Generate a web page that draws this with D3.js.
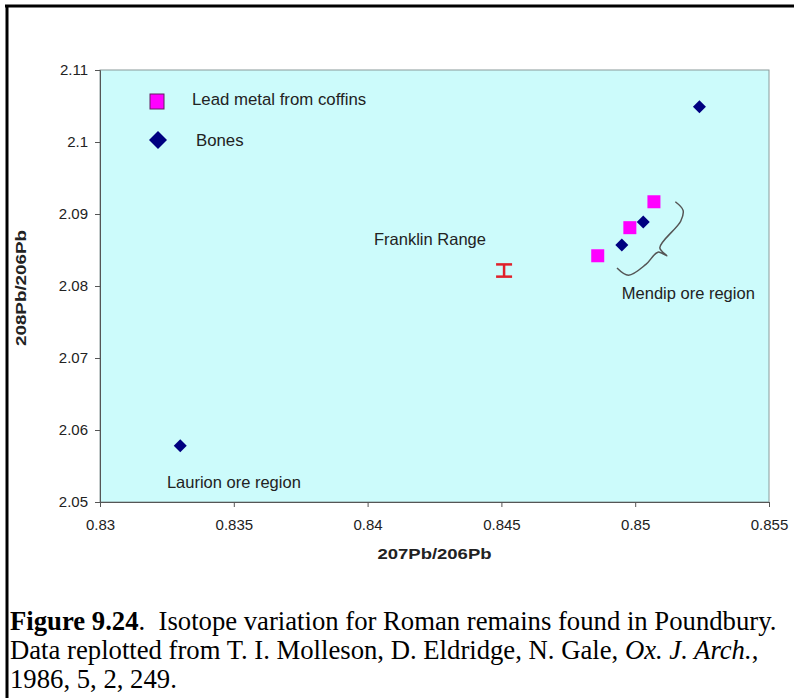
<!DOCTYPE html>
<html>
<head>
<meta charset="utf-8">
<script src="https://cdn.jsdelivr.net/npm/d3@7"></script>
<style>
  body { margin: 0; background: #fff; }
  svg { display: block; }
</style>
</head>
<body>
<div id="chart"></div>
<script>
// Data
const coffinX = [0.8486, 0.8498, 0.8507];
const coffinY = [2.0842, 2.0881, 2.0917];
const boneX = [0.8524, 0.8495, 0.8503, 0.8330];
const boneY = [2.1049, 2.0857, 2.0889, 2.0578];
const franklinX = [0.8451];
const franklinLow = [2.0813];
const franklinHigh = [2.0830];
const xTicks = [0.83, 0.835, 0.84, 0.845, 0.85, 0.855];
const yTicks = [2.05, 2.06, 2.07, 2.08, 2.09, 2.1, 2.11];
const legendLabels = ["Lead metal from coffins", "Bones"];

const W = 794, H = 698;
const margin = { top: 70, right: 25, bottom: 196, left: 100 };
const width = W - margin.left - margin.right;
const height = H - margin.top - margin.bottom;
const font = "Arial, 'Liberation Sans', sans-serif";

const svg = d3.select("#chart").append("svg")
    .attr("width", W)
    .attr("height", H);

// outer frame (left and top edges)
svg.append("line").attr("x1", 7).attr("x2", 7).attr("y1", 5).attr("y2", H)
    .attr("stroke", "#000").attr("stroke-width", 3);
svg.append("line").attr("x1", 5).attr("x2", W).attr("y1", 6).attr("y2", 6)
    .attr("stroke", "#000").attr("stroke-width", 3);

const g = svg.append("g")
    .attr("transform", "translate(" + margin.left + "," + margin.top + ")");

const x = d3.scaleLinear().domain([0.83, 0.855]).range([0, width]);
const y = d3.scaleLinear().domain([2.05, 2.11]).range([height, 0]);

// plot area
g.append("rect")
    .attr("width", width)
    .attr("height", height)
    .attr("fill", "#ccfbfb")
    .attr("stroke", "#8a9a9a")
    .attr("stroke-width", 1);

// axes
const xAxis = g.append("g")
    .attr("transform", "translate(0," + height + ")")
    .call(d3.axisBottom(x).tickValues(xTicks).tickFormat(d => +d.toFixed(3)).tickSizeOuter(0).tickSize(5).tickPadding(12));
const yAxis = g.append("g")
    .call(d3.axisLeft(y).tickValues(yTicks).tickFormat(d => +d.toFixed(2)).tickSizeOuter(0).tickSize(5).tickPadding(7));

[xAxis, yAxis].forEach(a => {
    a.select(".domain").attr("stroke", "#555");
    a.selectAll(".tick line").attr("stroke", "#555");
    a.selectAll("text")
        .attr("fill", "#222")
        .style("font-family", font)
        .style("font-size", "15px");
});

// axis titles
g.append("text")
    .attr("x", width / 2)
    .attr("y", height + 57)
    .attr("text-anchor", "middle")
    .attr("textLength", 114)
    .attr("lengthAdjust", "spacingAndGlyphs")
    .style("font-family", font)
    .style("font-size", "15px")
    .style("font-weight", "bold")
    .attr("fill", "#222")
    .text("207Pb/206Pb");

g.append("text")
    .attr("transform", "translate(" + (-74) + "," + (height / 2 + 2) + ") rotate(-90)")
    .attr("text-anchor", "middle")
    .attr("textLength", 116)
    .attr("lengthAdjust", "spacingAndGlyphs")
    .style("font-family", font)
    .style("font-size", "15px")
    .style("font-weight", "bold")
    .attr("fill", "#222")
    .text("208Pb/206Pb");

// coffin squares
const coffins = coffinX.map((v, i) => ({ x: v, y: coffinY[i] }));
g.selectAll(".coffin")
    .data(coffins)
    .enter().append("rect")
    .attr("class", "coffin")
    .attr("x", d => x(d.x) - 6.5)
    .attr("y", d => y(d.y) - 6.5)
    .attr("width", 13)
    .attr("height", 13)
    .attr("fill", "#ff00ff");

// bone diamonds
const bones = boneX.map((v, i) => ({ x: v, y: boneY[i] }));
g.selectAll(".bone")
    .data(bones)
    .enter().append("path")
    .attr("class", "bone")
    .attr("transform", d => "translate(" + x(d.x) + "," + y(d.y) + ")")
    .attr("d", "M0,-6.5L6.5,0L0,6.5L-6.5,0Z")
    .attr("fill", "#000080");

// Franklin range error bar
const fr = franklinX.map((v, i) => ({ x: v, lo: franklinLow[i], hi: franklinHigh[i] }));
fr.forEach(d => {
    const cx = x(d.x);
    g.append("line").attr("x1", cx).attr("x2", cx).attr("y1", y(d.lo)).attr("y2", y(d.hi))
        .attr("stroke", "#e0202a").attr("stroke-width", 2.5);
    [d.lo, d.hi].forEach(v => {
        g.append("line").attr("x1", cx - 8).attr("x2", cx + 8).attr("y1", y(v)).attr("y2", y(v))
            .attr("stroke", "#e0202a").attr("stroke-width", 2.5);
    });
});

// curly brace for the Mendip group (in data units)
const braceX = [0.84932, 0.84975, 0.85040, 0.85085, 0.85118, 0.85092, 0.85170, 0.85179, 0.85150];
const braceY = [2.0825, 2.0815, 2.0830, 2.0847, 2.0842, 2.0853, 2.0890, 2.0905, 2.0917];
g.append("path")
    .datum(braceX.map((v, i) => [x(v), y(braceY[i])]))
    .attr("d", d3.line().curve(d3.curveCatmullRom.alpha(0.5)))
    .attr("fill", "none")
    .attr("stroke", "#555")
    .attr("stroke-width", 1.5);

// annotations
const notes = [
    { t: "Franklin Range", x: 0.84024, y: 2.0857 },
    { t: "Mendip ore region", x: 0.8495, y: 2.0782 },
    { t: "Laurion ore region", x: 0.8325, y: 2.0519 }
];
g.selectAll(".note")
    .data(notes)
    .enter().append("text")
    .attr("class", "note")
    .attr("x", d => x(d.x))
    .attr("y", d => y(d.y))
    .style("font-family", font)
    .style("font-size", "16.5px")
    .attr("fill", "#222")
    .text(d => d.t);

// legend
const leg = g.append("g").attr("transform", "translate(" + 57 + "," + 31 + ")");
leg.append("rect").attr("x", -7).attr("y", -7).attr("width", 14).attr("height", 15)
    .attr("fill", "#ff00ff").attr("stroke", "#602060").attr("stroke-width", 1);
leg.append("path").attr("transform", "translate(1,39)")
    .attr("d", "M0,-9L9,0L0,9L-9,0Z").attr("fill", "#000080");
leg.append("text").attr("x", 35).attr("y", 4).style("font-family", font).style("font-size", "16.8px")
    .attr("fill", "#222").text(legendLabels[0]);
leg.append("text").attr("x", 39).attr("y", 45).style("font-family", font).style("font-size", "16.8px")
    .attr("fill", "#222").text(legendLabels[1]);

// caption
const cap = svg.append("text")
    .style("font-family", "'Times New Roman', 'Liberation Serif', serif")
    .style("font-size", "26.7px")
    .style("white-space", "pre")
    .attr("fill", "#000");
const l1 = cap.append("tspan").attr("x", 10).attr("y", 630);
l1.append("tspan").style("font-weight", "bold").text("Figure 9.24");
l1.append("tspan").text(".  Isotope variation for Roman remains found in Poundbury.");
const l2 = cap.append("tspan").attr("x", 10).attr("y", 659);
l2.append("tspan").text("Data replotted from T. I. Molleson, D. Eldridge, N. Gale, ");
l2.append("tspan").style("font-style", "italic").text("Ox. J. Arch.");
l2.append("tspan").text(",");
cap.append("tspan").attr("x", 10).attr("y", 688).text("1986, 5, 2, 249.");
</script>
</body>
</html>
